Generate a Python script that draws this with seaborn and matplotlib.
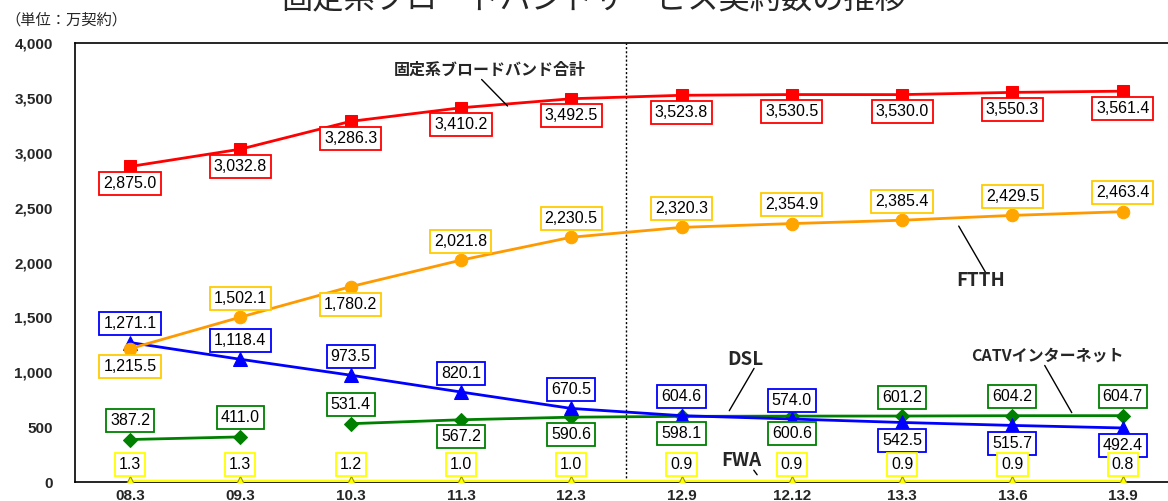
import numpy as np
import pandas as pd
import seaborn as sns
import matplotlib.pyplot as plt

# periods and subscriber counts (10k contracts)
periods = ['08.3', '09.3', '10.3', '11.3', '12.3', '12.9', '12.12', '13.3', '13.6', '13.9']
total = [2875.0, 3032.8, 3286.3, 3410.2, 3492.5, 3523.8, 3530.5, 3530.0, 3550.3, 3561.4]
ftth = [1215.5, 1502.1, 1780.2, 2021.8, 2230.5, 2320.3, 2354.9, 2385.4, 2429.5, 2463.4]
dsl = [1271.1, 1118.4, 973.5, 820.1, 670.5, 604.6, 574.0, 542.5, 515.7, 492.4]
catv = [387.2, 411.0, 531.4, 567.2, 590.6, 598.1, 600.6, 601.2, 604.2, 604.7]
fwa = [1.3, 1.3, 1.2, 1.0, 1.0, 0.9, 0.9, 0.9, 0.9, 0.8]

# where each value label goes: 1 above the marker, -1 below
total_side = [-1] * 10
ftth_side = [-1, 1, -1, 1, 1, 1, 1, 1, 1, 1]
dsl_side = [1, 1, 1, 1, 1, 1, 1, -1, -1, -1]
catv_side = [1, 1, 1, -1, -1, -1, -1, 1, 1, 1]
fwa_side = [1] * 10

sns.set_style('white')
plt.rcParams['font.family'] = ['Liberation Sans', 'Noto Sans CJK JP', 'DejaVu Sans']
cjk = ['Noto Sans CJK JP', 'DejaVu Sans']

fig = plt.figure(figsize=(11.68, 5.01), dpi=100)
ax = fig.add_axes([0.0641, 0.0379, 0.9444, 0.8762])

x = np.arange(len(periods))
df = pd.DataFrame({'x': x, 'total': total, 'ftth': ftth, 'dsl': dsl,
                   'catv': catv, 'fwa': fwa})

sns.lineplot(data=df, x='x', y='fwa', ax=ax, color='#FFFF00', lw=3.2,
             marker='^', markersize=9, markerfacecolor='#FFFF00',
             markeredgecolor='#999900', markeredgewidth=0.8, zorder=3)
# CATV line is broken between 09.3 and 10.3
sns.lineplot(data=df.iloc[:2], x='x', y='catv', ax=ax, color='#008000', lw=2,
             marker='D', markersize=7, markeredgecolor='#008000', zorder=4)
sns.lineplot(data=df.iloc[2:], x='x', y='catv', ax=ax, color='#008000', lw=2,
             marker='D', markersize=7, markeredgecolor='#008000', zorder=4)
sns.lineplot(data=df, x='x', y='dsl', ax=ax, color='#0000FF', lw=2,
             marker='^', markersize=10.5, markeredgecolor='#0000FF', zorder=4)
sns.lineplot(data=df, x='x', y='ftth', ax=ax, color='#FF9900', lw=2,
             marker='o', markersize=9, markerfacecolor='#FFA500',
             markeredgecolor='#FFA500', zorder=4)
sns.lineplot(data=df, x='x', y='total', ax=ax, color='#FF0000', lw=2,
             marker='s', markersize=9, markeredgecolor='#FF0000', zorder=4)


def add_labels(vals, sides, edge, off_up=19, off_dn=18):
    for i, (v, s) in enumerate(zip(vals, sides)):
        dy = off_up if s > 0 else -off_dn
        ax.annotate(f'{v:,.1f}', (i, v), xytext=(0, dy), textcoords='offset pixels',
                    ha='center', va='center', fontsize=11.5, color='black', zorder=6,
                    bbox=dict(boxstyle='square,pad=0.25', fc='white', ec=edge, lw=1.3))


add_labels(total, total_side, '#FF0000', off_dn=17)
add_labels(ftth, ftth_side, '#FFCC00')
add_labels(dsl, dsl_side, '#0000FF')
add_labels(catv, catv_side, '#008000', off_dn=17)
add_labels(fwa, fwa_side, '#FFFF00', off_up=17)

# series names with leader lines
names = [
    ('固定系ブロードバンド合計', (3.44, 3408), (3.26, 3754), (3.17, 3686), 11.5),
    ('FTTH', (7.50, 2354), (7.71, 1835), (7.77, 1886), 13.5),
    ('DSL', (5.42, 628), (5.58, 1112), (5.67, 1057), 13.5),
    ('CATVインターネット', (8.55, 610), (8.32, 1151), (8.28, 1084), 11.5),
    ('FWA', (5.70, 46), (5.54, 200), (5.64, 128), 13.5),
]
for name, tip, txt, start, fs in names:
    ax.annotate('', xy=tip, xytext=start,
                arrowprops=dict(arrowstyle='-', color='black', lw=1), zorder=5)
    ax.text(txt[0], txt[1], name, ha='center', va='center', fontsize=fs,
            fontweight='bold', family=cjk, zorder=6)

# divider between fiscal-year and quarterly data
ax.axvline(4.5, color='black', ls=(0, (1.5, 1.5)), lw=1, zorder=2)

ax.set_xlim(-0.5, 9.5)
ax.set_ylim(0, 4000)
ax.set_yticks(np.arange(0, 4001, 500))
ax.set_yticklabels([f'{v:,}' for v in range(0, 4001, 500)])
ax.set_xticks(x)
ax.set_xticklabels(periods)
ax.set_xticks(np.arange(0.5, 9, 1), minor=True)
ax.tick_params(axis='x', which='major', length=0, pad=5, labelsize=11)
ax.tick_params(axis='x', which='minor', length=5, direction='in', color='black')
ax.tick_params(axis='y', length=5, direction='in', pad=16, labelsize=11, color='black')
for lab in ax.get_xticklabels() + ax.get_yticklabels():
    lab.set_fontweight('bold')
ax.set_xlabel('')
ax.set_ylabel('')
for sp in ax.spines.values():
    sp.set_color('black')
    sp.set_linewidth(1.2)

fig.text(0.5086, 1 - 9 / 501, '固定系ブロードバンドサービス契約数の推移', ha='center',
         va='baseline', fontsize=22.5, family=cjk)
fig.text(5 / 1168, 1 - 20 / 501, '（単位：万契約）', ha='left', va='center',
         fontsize=11, family=cjk)

fig.savefig('out.png', dpi=100)
